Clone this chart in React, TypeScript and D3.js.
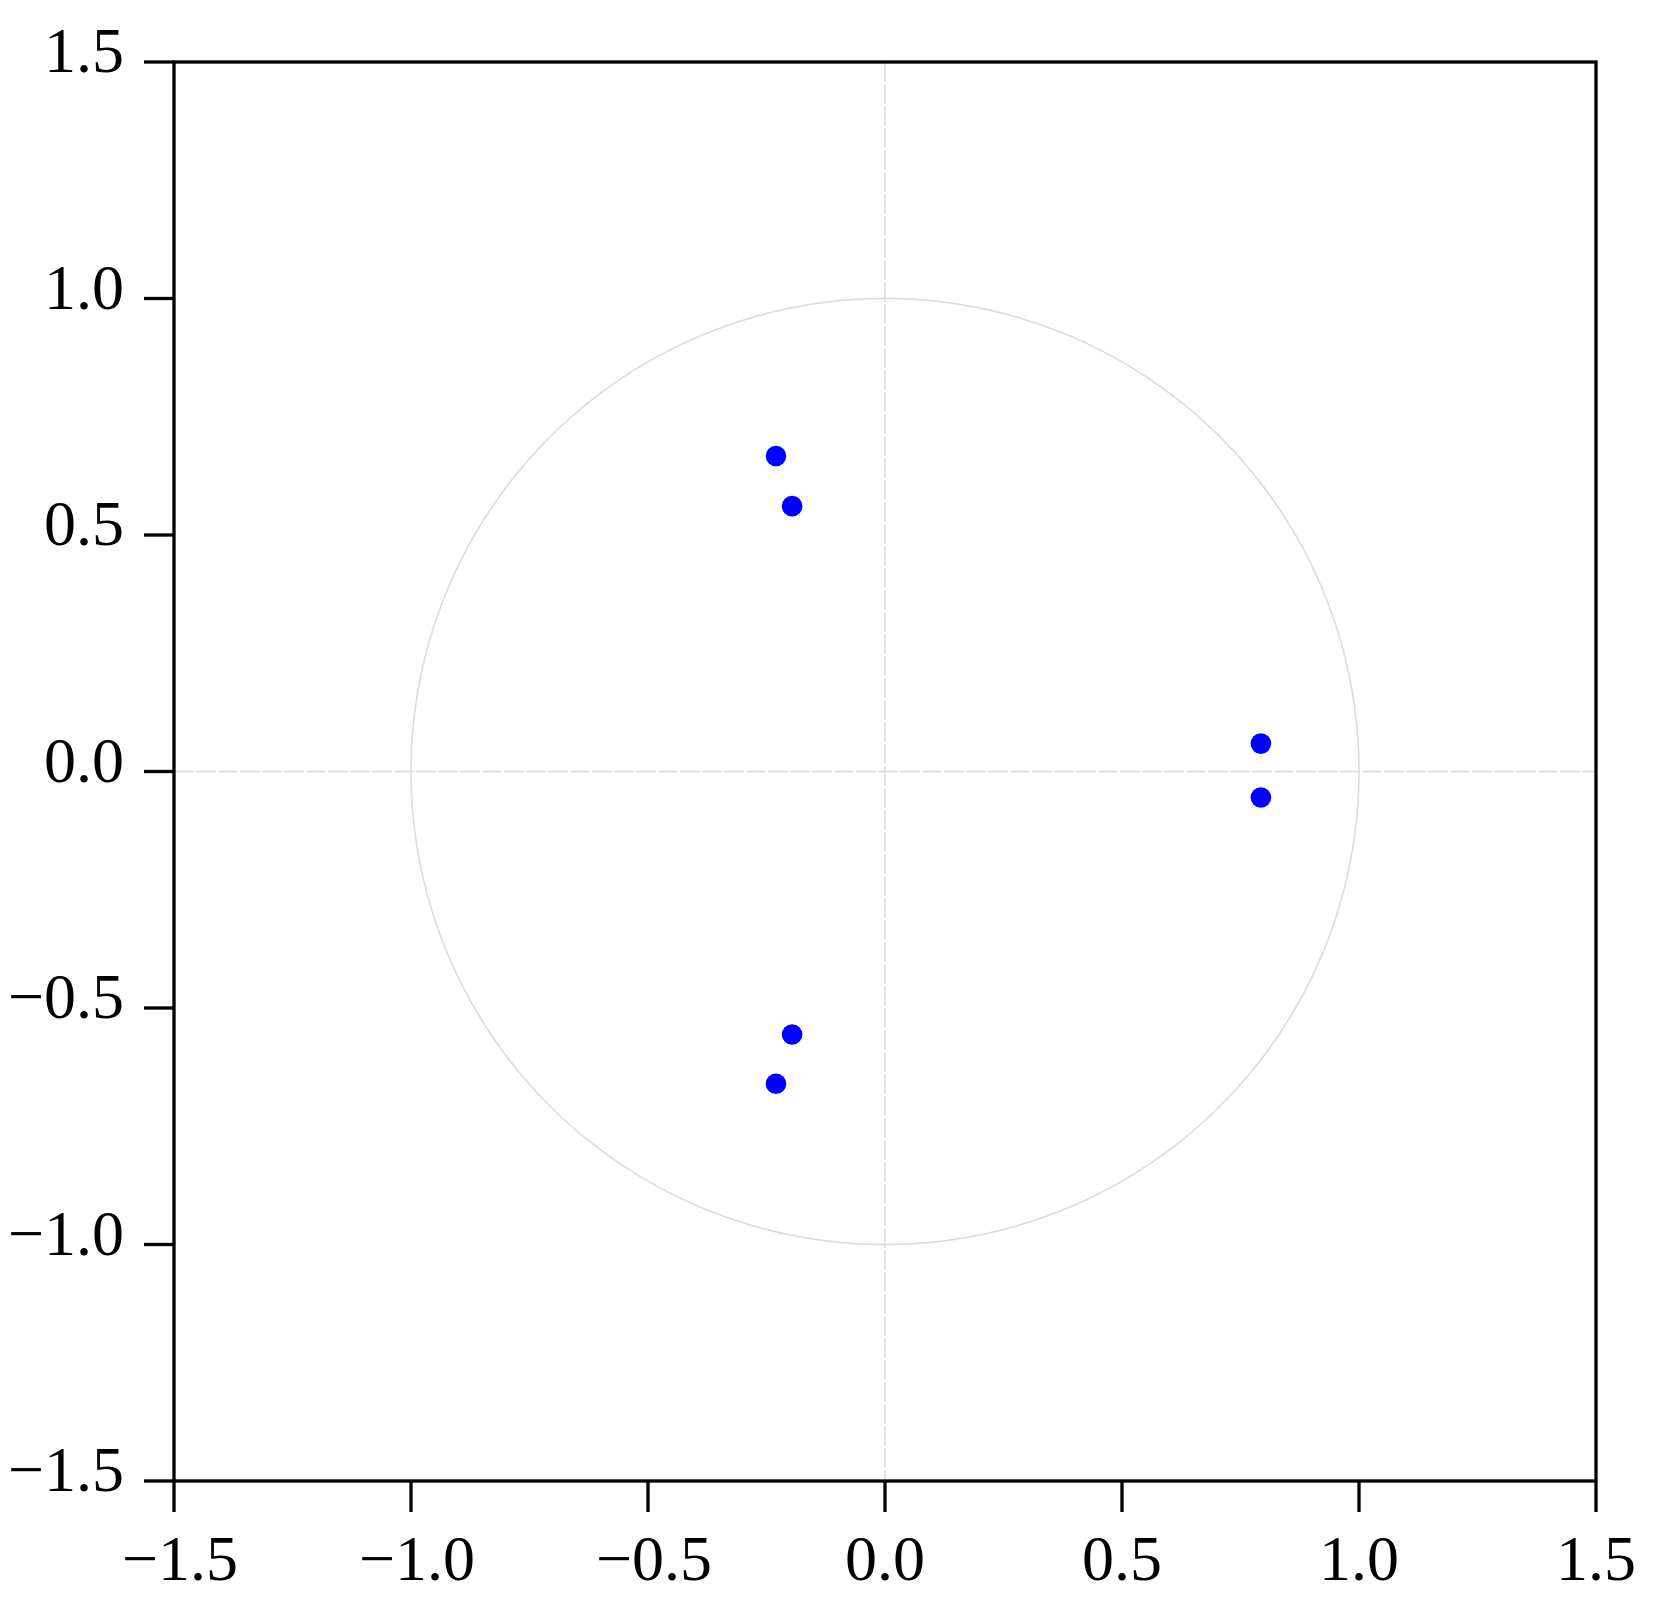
import React from "react";
import * as d3 from "d3";

const ticks = [-1.5, -1.0, -0.5, 0.0, 0.5, 1.0, 1.5];
const pointsRe = [-0.23, -0.196, 0.793, 0.793, -0.196, -0.23];
const pointsIm = [0.667, 0.561, 0.059, -0.055, -0.556, -0.66];

const W = 1654, H = 1609;
const left = 174, right = 1596, top = 62, bottom = 1481;

function fmt(v: number) {
  const s = Math.abs(v).toFixed(1);
  return v < 0 ? "\u2212" + s : s;
}

export default function App() {
  const x = d3.scaleLinear().domain([-1.5, 1.5]).range([left, right]);
  const y = d3.scaleLinear().domain([-1.5, 1.5]).range([bottom, top]);
  const circ = d3.range(0, 361).map((a) => [Math.cos((a * Math.PI) / 180), Math.sin((a * Math.PI) / 180)] as [number, number]);
  const line = d3.line<[number, number]>().x((d) => x(d[0])).y((d) => y(d[1]));
  const font = "'Liberation Serif', 'DejaVu Serif', serif";
  const fs = 64;
  return (
    <svg width={W} height={H} style={{ display: "block", position: "absolute", left: 0, top: 0 }}>
      <rect x={0} y={0} width={W} height={H} fill="#fff" />
      <line x1={x(0)} x2={x(0)} y1={top} y2={bottom} stroke="#dcdcdc" strokeWidth={1.5} strokeDasharray="20 2" />
      <line x1={left} x2={right} y1={y(0)} y2={y(0)} stroke="#dcdcdc" strokeWidth={1.5} strokeDasharray="20 2" />
      <path d={line(circ) || ""} fill="none" stroke="#dcdcdc" strokeWidth={1.6} />
      {pointsRe.map((re, i) => (
        <circle key={i} cx={x(re)} cy={y(pointsIm[i])} r={10.3} fill="#0000ff" />
      ))}
      <rect x={left} y={top} width={right - left} height={bottom - top} fill="none" stroke="#000" strokeWidth={3.3} />
      {ticks.map((t) => (
        <g key={"y" + t}>
          <line x1={left - 30} x2={left} y1={y(t)} y2={y(t)} stroke="#000" strokeWidth={3.3} />
          <text x={left - 50} y={y(t) + 10} textAnchor="end" fontFamily={font} fontSize={fs}>{fmt(t)}</text>
        </g>
      ))}
      {ticks.map((t) => (
        <g key={"x" + t}>
          <line x1={x(t)} x2={x(t)} y1={bottom} y2={bottom + 31} stroke="#000" strokeWidth={3.3} />
          <text x={x(t) + (t < 0 ? 6 : 0)} y={bottom + 99} textAnchor="middle" fontFamily={font} fontSize={fs}>{fmt(t)}</text>
        </g>
      ))}
    </svg>
  );
}
